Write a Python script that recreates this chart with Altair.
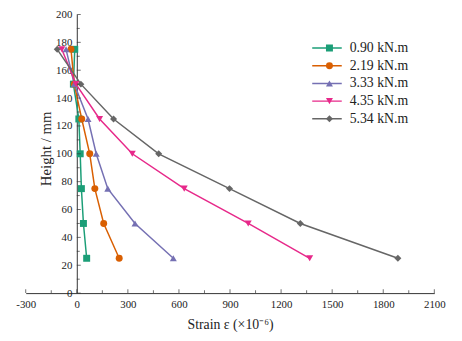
import altair as alt
import pandas as pd

# ---- data ----
heights = [175, 150, 125, 100, 75, 50, 25]
series_names = ["0.90 kN.m", "2.19 kN.m", "3.33 kN.m", "4.35 kN.m", "5.34 kN.m"]
strain_090 = [-12, -20, 12, 20, 27, 39, 58]
strain_219 = [-34, -15, 29, 76, 106, 158, 249]
strain_333 = [-63, -15, 66, 114, 182, 342, 567]
strain_435 = [-88, -5, 134, 326, 631, 1007, 1368]
strain_534 = [-115, 24, 216, 481, 897, 1313, 1886]

colors = ["#1B9E77", "#D95F02", "#7570B3", "#E7298A", "#666666"]
shapes = ["square", "circle", "triangle-up", "triangle-down", "diamond"]

x_major = list(range(-300, 2101, 300))
x_minor = list(range(-150, 2100, 300))
y_major = list(range(0, 201, 20))
y_minor = list(range(10, 200, 20))

rows = []
for name, vals in zip(series_names, [strain_090, strain_219, strain_333, strain_435, strain_534]):
    for h, v in zip(heights, vals):
        rows.append({"series": name, "height": h, "strain": v})
df = pd.DataFrame(rows)

W, H = 415, 283
FONT = "Liberation Serif"
AX = "#333333"
TXT = "#222222"

xscale = alt.Scale(domain=[-300, 2100], nice=False, zero=False)
yscale = alt.Scale(domain=[0, 200], nice=False, zero=False)

x_axis = alt.Axis(values=x_major, labelExpr="toString(datum.value)", ticks=False,
                  grid=False, domainColor=AX,
                  labelFont=FONT, labelFontSize=11, labelColor=TXT,
                  labelPadding=6, labelOverlap=False, labelFlush=False,
                  title="Strain ε (×10⁻⁶)", titleFont=FONT,
                  titleFontSize=14, titleFontWeight="normal", titleColor=TXT,
                  titlePadding=8)
y_axis = alt.Axis(values=y_major, labelExpr="toString(datum.value)", ticks=False,
                  grid=False, domainColor=AX,
                  offset=-W * 300 / 2400, labelFont=FONT, labelFontSize=11,
                  labelColor=TXT, labelPadding=5, labelOverlap=False,
                  labelFlush=False, title="Height / mm",
                  titleFont=FONT, titleFontSize=15, titleFontWeight="normal",
                  titleColor=TXT, titleX=-31.5, titleY=136,
                  titleBaseline="middle")

LEG_Y = 25
lines = alt.Chart(df).mark_line(strokeWidth=1.5).encode(
    x=alt.X("strain:Q", scale=xscale, axis=x_axis),
    y=alt.Y("height:Q", scale=yscale, axis=y_axis),
    stroke=alt.Stroke("series:N", scale=alt.Scale(domain=series_names, range=colors),
                      legend=alt.Legend(title=None, orient="none", legendX=290, legendY=LEG_Y,
                                        symbolType="stroke", symbolSize=900,
                                        symbolStrokeWidth=1.5, labelFont=FONT,
                                        labelFontSize=14, labelColor=TXT, clipHeight=18,
                                        rowPadding=0, labelOffset=7)),
    order=alt.Order("height:Q"),
    detail="series:N",
)

shape_legend = alt.Legend(title=None, orient="none", legendX=301.5, legendY=LEG_Y,
                          symbolSize=50, symbolStrokeWidth=0, labelFont=FONT,
                          labelFontSize=14, labelExpr="' '", labelOpacity=0,
                          clipHeight=18, rowPadding=0)
points = alt.Chart(df).mark_point(filled=True, size=50, opacity=1).encode(
    x=alt.X("strain:Q", scale=xscale, axis=x_axis),
    y=alt.Y("height:Q", scale=yscale, axis=y_axis),
    fill=alt.Fill("series:N", scale=alt.Scale(domain=series_names, range=colors),
                  legend=shape_legend),
    shape=alt.Shape("series:N", scale=alt.Scale(domain=series_names, range=shapes),
                    legend=shape_legend),
)

xt_major = alt.Chart(pd.DataFrame({"v": x_major})).mark_tick(
    orient="vertical", size=4, thickness=1, yOffset=-2, color=AX).encode(
    x=alt.X("v:Q", scale=xscale, axis=x_axis), y=alt.datum(0, axis=y_axis))
xt_minor = alt.Chart(pd.DataFrame({"v": x_minor})).mark_tick(
    orient="vertical", size=3, thickness=1, yOffset=-1.5, color=AX).encode(
    x=alt.X("v:Q", scale=xscale, axis=x_axis), y=alt.datum(0, axis=y_axis))
yt_major = alt.Chart(pd.DataFrame({"v": y_major})).mark_tick(
    orient="horizontal", size=4, thickness=1, xOffset=2, color=AX).encode(
    y=alt.Y("v:Q", scale=yscale, axis=y_axis), x=alt.datum(0, axis=x_axis))
yt_minor = alt.Chart(pd.DataFrame({"v": y_minor})).mark_tick(
    orient="horizontal", size=3, thickness=1, xOffset=1.5, color=AX).encode(
    y=alt.Y("v:Q", scale=yscale, axis=y_axis), x=alt.datum(0, axis=x_axis))

chart = alt.layer(lines, points, xt_major, xt_minor, yt_major, yt_minor).resolve_scale(
    stroke="independent", fill="independent", shape="independent"
).properties(
    width=W, height=H,
    autosize=alt.AutoSizeParams(type="none"),
    padding={"left": 18, "top": 4, "right": 20, "bottom": 42},
    background="white",
).configure_view(stroke=None)

chart.save("out.html", embed_options={"renderer": "svg", "actions": False})
